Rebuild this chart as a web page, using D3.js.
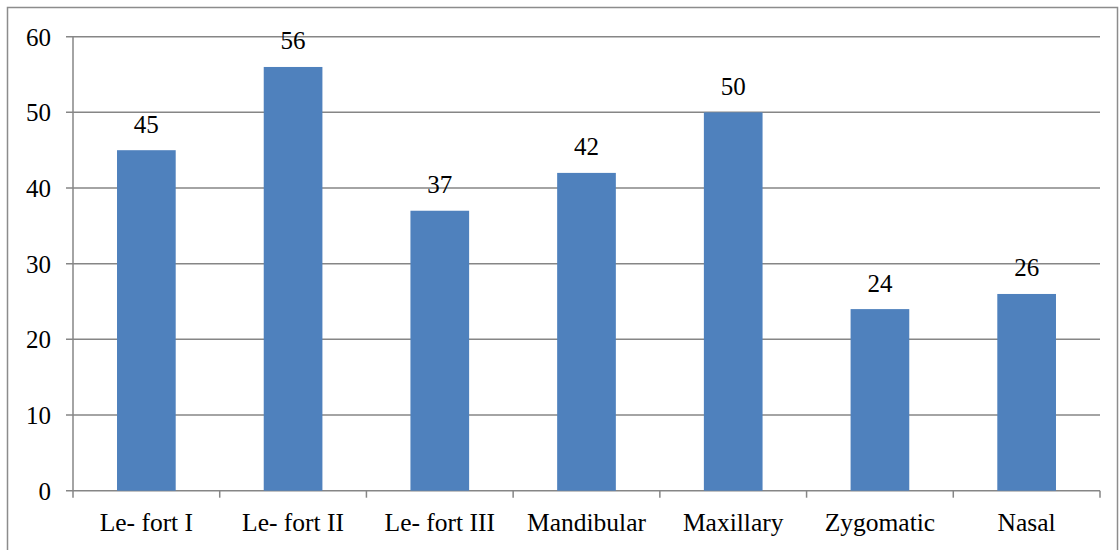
<!DOCTYPE html>
<html>
<head>
<meta charset="utf-8">
<script src="https://cdn.jsdelivr.net/npm/d3@7"></script>
<style>
  body { margin: 0; background: #fff; }
  text { font-family: "Times New Roman", "Liberation Serif", Tinos, serif; fill: #000; }
</style>
</head>
<body>
<div id="chart"></div>
<script>
var w = 1120;
var h = 550;

// chart data
var categories = ["Le- fort I", "Le- fort II", "Le- fort III", "Mandibular", "Maxillary", "Zygomatic", "Nasal"];
var values = [45, 56, 37, 42, 50, 24, 26];
var yTicks = [0, 10, 20, 30, 40, 50, 60];

// plot area edges (window.top is taken, so own names)
var plotLeft = 73, plotRight = 1100, plotTop = 36.7, plotBottom = 490.7;

var svg = d3.select("#chart")
          .append("svg")
          .attr("width", w)
          .attr("height", h);

// outer frame
svg.append("rect")
   .attr("x", 7.5).attr("y", 7.5)
   .attr("width", 1110).attr("height", 560)
   .style("fill", "none")
   .style("stroke", "#8c8c8c")
   .style("stroke-width", 1.5);

var x = d3.scaleBand()
          .domain(categories)
          .range([plotLeft, plotRight])
          .paddingInner(0.6)
          .paddingOuter(0.3);

var y = d3.scaleLinear()
          .domain([0, 60])
          .range([plotBottom, plotTop]);

// gridlines
svg.append("g")
   .selectAll("line")
   .data(yTicks)
   .enter()
   .append("line")
   .attr("x1", plotLeft - 7)
   .attr("x2", plotRight)
   .attr("y1", function(d) { return y(d); })
   .attr("y2", function(d) { return y(d); })
   .style("stroke", "#868686")
   .style("stroke-width", 1.5);

// y axis line
svg.append("line")
   .attr("x1", plotLeft).attr("x2", plotLeft)
   .attr("y1", plotTop).attr("y2", plotBottom)
   .style("stroke", "#868686")
   .style("stroke-width", 1.5);

// y tick labels
svg.append("g")
   .selectAll("text")
   .data(yTicks)
   .enter()
   .append("text")
   .attr("x", plotLeft - 22)
   .attr("y", function(d) { return y(d) + 9; })
   .attr("font-family", "Liberation Serif")
   .style("text-anchor", "end")
   .style("font-size", "25px")
   .text(function(d) { return String(d); });

// category boundary ticks
var bounds = categories.map(function(c, i) { return plotLeft + i * (plotRight - plotLeft) / categories.length; });
bounds.push(plotRight);
svg.append("g")
   .selectAll("line")
   .data(bounds)
   .enter()
   .append("line")
   .attr("x1", function(d) { return d; })
   .attr("x2", function(d) { return d; })
   .attr("y1", plotBottom)
   .attr("y2", plotBottom + 7)
   .style("stroke", "#868686")
   .style("stroke-width", 1.5);

// bars
svg.append("g")
   .selectAll("rect")
   .data(values)
   .enter()
   .append("rect")
   .attr("x", function(d, i) { return x(categories[i]); })
   .attr("y", function(d) { return y(d); })
   .attr("width", x.bandwidth())
   .attr("height", function(d) { return plotBottom - y(d); })
   .style("fill", "#4f81bd");

// value labels
svg.append("g")
   .selectAll("text")
   .data(values)
   .enter()
   .append("text")
   .attr("x", function(d, i) { return x(categories[i]) + x.bandwidth() / 2; })
   .attr("y", function(d) { return y(d) - 17.5; })
   .style("text-anchor", "middle")
   .style("font-size", "25px")
   .text(function(d) { return String(d); });

// category labels
svg.append("g")
   .selectAll("text")
   .data(categories)
   .enter()
   .append("text")
   .attr("x", function(d) { return x(d) + x.bandwidth() / 2; })
   .attr("y", 530.5)
   .style("text-anchor", "middle")
   .style("font-size", "25.5px")
   .text(function(d) { return d; });
</script>
</body>
</html>
